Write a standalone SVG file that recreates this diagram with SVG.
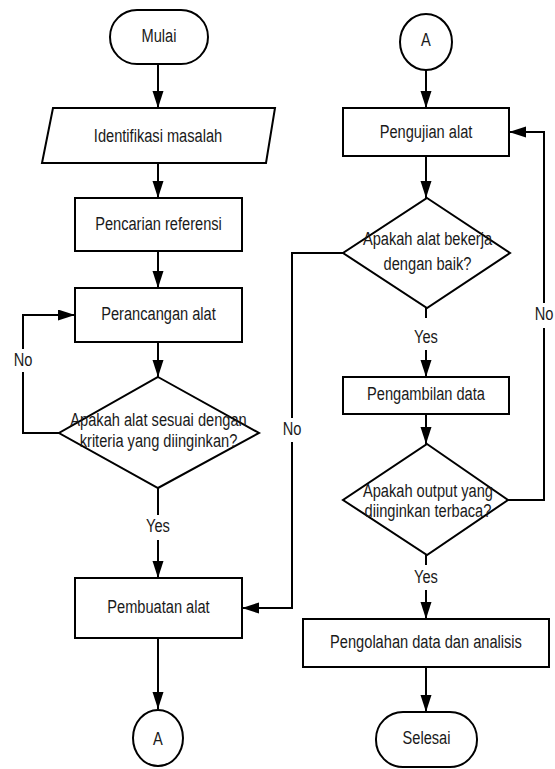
<svg xmlns="http://www.w3.org/2000/svg" width="555" height="769" viewBox="0 0 555 769">
<style>
.s{fill:#fff;stroke:#000;stroke-width:2}
.c{fill:none;stroke:#000;stroke-width:2}
text{font-family:"Liberation Sans",Arial,sans-serif;font-size:19px;fill:#1a1a1a;text-anchor:middle}
</style>
<defs>
<marker id="ah" markerUnits="userSpaceOnUse" markerWidth="18" markerHeight="12" refX="17" refY="5.5" orient="auto">
<path d="M0,0 L17,5.5 L0,11 z" fill="#000"/>
</marker>
</defs>
<rect width="555" height="769" fill="#fff"/>
<g id="connectors">
<path class="c" d="M158,64 V108" marker-end="url(#ah)"/>
<path class="c" d="M158,163 V198" marker-end="url(#ah)"/>
<path class="c" d="M158,251 V288" marker-end="url(#ah)"/>
<path class="c" d="M158,342 V377" marker-end="url(#ah)"/>
<path class="c" d="M59,433 H23 V372"/>
<path class="c" d="M23,349 V315 H75" marker-end="url(#ah)"/>
<path class="c" d="M158,488 V515"/>
<path class="c" d="M158,540 V578" marker-end="url(#ah)"/>
<path class="c" d="M158,638 V709" marker-end="url(#ah)"/>
<path class="c" d="M426,70 V108" marker-end="url(#ah)"/>
<path class="c" d="M426,156 V198" marker-end="url(#ah)"/>
<path class="c" d="M343,253 H292 V418"/>
<path class="c" d="M292,442 V608 H242" marker-end="url(#ah)"/>
<path class="c" d="M426,308 V318"/>
<path class="c" d="M426,350 V377" marker-end="url(#ah)"/>
<path class="c" d="M426,414 V444" marker-end="url(#ah)"/>
<path class="c" d="M508,500 H544 V328"/>
<path class="c" d="M544,303 V132 H509" marker-end="url(#ah)"/>
<path class="c" d="M426,555 V565"/>
<path class="c" d="M426,590 V619" marker-end="url(#ah)"/>
<path class="c" d="M426,667 V712" marker-end="url(#ah)"/>
<text transform="translate(23,366) scale(0.77,1)">No</text>
<text transform="translate(158,532) scale(0.77,1)">Yes</text>
<text transform="translate(292,435) scale(0.77,1)">No</text>
<text transform="translate(426,343) scale(0.77,1)">Yes</text>
<text transform="translate(544,320) scale(0.77,1)">No</text>
<text transform="translate(426,583) scale(0.77,1)">Yes</text>
</g>
<g id="mulai">
<rect class="s" x="110" y="10" width="98" height="54" rx="27"/>
<text transform="translate(159,42) scale(0.77,1)">Mulai</text>
</g>
<g id="identifikasi">
<polygon class="s" points="53,108 275,108 266,163 42,163"/>
<text transform="translate(158,142) scale(0.77,1)">Identifikasi masalah</text>
</g>
<g id="pencarian">
<rect class="s" x="75" y="198" width="167" height="53"/>
<text transform="translate(158.5,230) scale(0.77,1)">Pencarian referensi</text>
</g>
<g id="perancangan">
<rect class="s" x="75" y="288" width="167" height="54"/>
<text transform="translate(158.5,320) scale(0.77,1)">Perancangan alat</text>
</g>
<g id="cek-kriteria">
<polygon class="s" points="158,377 259,433 158,488 59,433"/>
<text transform="translate(158.5,426) scale(0.77,1)">Apakah alat sesuai dengan</text>
<text transform="translate(158.5,447) scale(0.77,1)">kriteria yang diinginkan?</text>
</g>
<g id="pembuatan">
<rect class="s" x="75" y="578" width="167" height="60"/>
<text transform="translate(158.5,613) scale(0.77,1)">Pembuatan alat</text>
</g>
<g id="konektor-a1">
<ellipse class="s" cx="158" cy="738" rx="25" ry="28"/>
<text transform="translate(158,745) scale(0.77,1)">A</text>
</g>
<g id="konektor-a2">
<ellipse class="s" cx="426" cy="42" rx="26" ry="28"/>
<text transform="translate(426,46) scale(0.77,1)">A</text>
</g>
<g id="pengujian">
<rect class="s" x="343" y="108" width="166" height="48"/>
<text transform="translate(426,138) scale(0.77,1)">Pengujian alat</text>
</g>
<g id="cek-bekerja">
<polygon class="s" points="427,198 510,253 427,308 343,253"/>
<text transform="translate(427.5,245) scale(0.77,1)">Apakah alat bekerja</text>
<text transform="translate(427.5,270) scale(0.77,1)">dengan baik?</text>
</g>
<g id="pengambilan">
<rect class="s" x="343" y="377" width="166" height="37"/>
<text transform="translate(426,400) scale(0.77,1)">Pengambilan data</text>
</g>
<g id="cek-output">
<polygon class="s" points="427,444 508,500 427,555 343,500"/>
<text transform="translate(428,497) scale(0.77,1)">Apakah output yang</text>
<text transform="translate(428,517) scale(0.77,1)">diinginkan terbaca?</text>
</g>
<g id="pengolahan">
<rect class="s" x="303" y="619" width="246" height="48"/>
<text transform="translate(426,648) scale(0.77,1)">Pengolahan data dan analisis</text>
</g>
<g id="selesai">
<rect class="s" x="376" y="712" width="101" height="55" rx="27"/>
<text transform="translate(426.5,744) scale(0.77,1)">Selesai</text>
</g>
</svg>
